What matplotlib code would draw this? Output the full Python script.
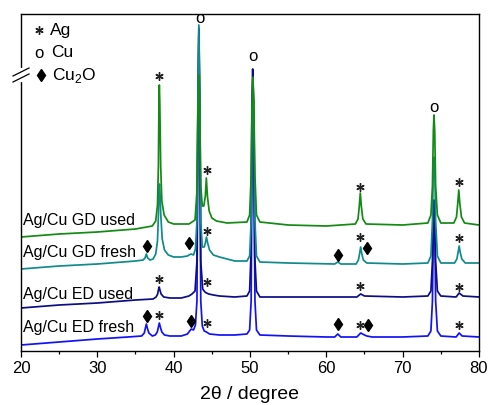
import numpy as np
import matplotlib
matplotlib.use("Agg")
import matplotlib.pyplot as plt
from matplotlib.ticker import MultipleLocator

plt.rcParams['font.family'] = ['Liberation Sans', 'DejaVu Sans']
plt.rcParams['mathtext.fontset'] = 'custom'
plt.rcParams['mathtext.rm'] = 'Liberation Sans'

# ---- data (2theta in degree, intensity in a.u., curves already offset) ----
ed_fresh_x = [20, 25, 30, 34, 35.8, 36.15, 36.3, 36.42, 36.55, 36.75, 37.2, 37.6, 37.85, 38.0,
              38.12, 38.25, 38.45, 38.8, 39.5, 41, 41.8, 42.1, 42.3, 42.6, 42.85, 43.05, 43.18,
              43.3, 43.42, 43.55, 43.75, 44.0, 44.3, 44.7, 46, 48, 49.6, 49.95, 50.15, 50.28,
              50.38, 50.5, 50.65, 50.85, 51.3, 55, 60, 61.1, 61.5, 61.9, 64, 64.5, 65.0, 65.3,
              66, 70, 73.3, 73.7, 73.9, 74.02, 74.1, 74.2, 74.32, 74.55, 75.0, 77, 77.4, 77.8, 80]
ed_fresh_y = [6, 9, 12, 14, 15, 18, 23, 27, 23, 18, 15, 16, 19, 24,
              28, 24, 19, 16, 15, 15, 17, 20, 22, 21, 26, 50, 220,
              321, 220, 50, 25, 20, 19, 17, 16, 16, 17, 21, 50, 200,
              251, 200, 50, 21, 16, 15, 14, 14, 17, 14, 14, 18, 16, 15,
              14, 14, 15, 20, 50, 125, 141, 125, 50, 20, 15, 14, 18, 15, 14]

ed_used_x = [20, 25, 30, 35, 37.3, 37.7, 37.9, 38.0, 38.1, 38.2, 38.35, 38.7, 39.5, 41, 42,
             42.4, 42.8, 43.05, 43.18, 43.3, 43.42, 43.55, 43.8, 44.1, 44.3, 44.6, 45.2, 46,
             48, 49.6, 49.95, 50.12, 50.25, 50.35, 50.47, 50.62, 50.85, 51.3, 55, 60, 64.0,
             64.5, 65.0, 70, 73.3, 73.7, 73.9, 74.02, 74.1, 74.2, 74.32, 74.55, 75.0, 77,
             77.4, 77.9, 80]
ed_used_y = [43, 46, 48, 51, 52, 54, 57, 61, 64, 61, 57, 54, 53, 53, 55,
             57, 60, 90, 250, 323, 250, 90, 62, 59, 58, 57, 56, 55,
             54, 55, 60, 95, 250, 282, 250, 95, 60, 54, 54, 54, 54,
             57, 55, 54, 55, 60, 90, 140, 151, 140, 90, 60, 55, 54,
             58, 55, 54]

gd_fresh_x = [20, 25, 30, 35, 36.0, 36.25, 36.42, 36.6, 36.9, 37.3, 37.65, 37.88, 38.0, 38.07,
              38.14, 38.2, 38.32, 38.5, 38.8, 39.3, 40, 41, 41.8, 42.0, 42.3, 42.6, 42.85,
              43.05, 43.18, 43.3, 43.42, 43.55, 43.75, 44.0, 44.15, 44.3, 44.45, 44.7, 45.2,
              46, 47, 48, 49.6, 49.95, 50.15, 50.28, 50.38, 50.5, 50.65, 50.85, 51.3, 55,
              61.1, 61.5, 61.9, 63.9, 64.2, 64.35, 64.5, 64.65, 64.85, 65.3, 70, 73.3, 73.7,
              73.9, 74.02, 74.1, 74.2, 74.32, 74.55, 75.0, 76.8, 77.1, 77.27, 77.4, 77.53,
              77.75, 78.2, 80]
gd_fresh_y = [82, 85, 87, 90, 91, 93, 97, 93, 91, 92, 97, 110, 135, 160,
              167, 160, 135, 112, 101, 96, 94, 94, 95, 96, 97, 96, 102,
              130, 260, 326, 260, 130, 104, 104, 108, 114, 108, 101, 96,
              94, 92, 90, 90, 95, 130, 240, 261, 240, 130, 95, 89, 88,
              87, 89, 87, 87, 91, 97, 104, 97, 91, 88, 87, 88, 95,
              130, 185, 194, 185, 130, 95, 88, 88, 92, 99, 105, 99,
              92, 88, 88]

gd_used_x = [20, 25, 30, 35, 37.2, 37.65, 37.88, 38.0, 38.07, 38.12, 38.18, 38.3, 38.45, 38.75,
             39.3, 40, 42, 42.8, 43.05, 43.18, 43.3, 43.42, 43.55, 43.75, 43.95, 44.15, 44.28,
             44.42, 44.65, 45.0, 45.6, 47, 49.6, 49.95, 50.15, 50.28, 50.38, 50.5, 50.65,
             50.85, 51.3, 55, 60, 63.8, 64.15, 64.32, 64.45, 64.58, 64.78, 65.2, 70, 73.3,
             73.7, 73.9, 74.02, 74.1, 74.2, 74.32, 74.55, 75.0, 76.7, 77.05, 77.22, 77.35,
             77.48, 77.7, 78.1, 80]
gd_used_y = [114, 117, 119, 122, 125, 130, 146, 185, 250, 266, 250, 185, 150, 136,
             129, 127, 127, 131, 160, 240, 276, 240, 165, 145, 145, 155, 173,
             155, 140, 133, 130, 128, 129, 136, 175, 250, 274, 250, 175,
             136, 129, 126, 125, 127, 132, 145, 158, 145, 132, 127, 126, 128,
             136, 165, 220, 236, 220, 165, 136, 128, 128, 134, 148, 161,
             148, 134, 128, 126]

labels = ["Ag/Cu ED fresh", "Ag/Cu ED used", "Ag/Cu GD fresh", "Ag/Cu GD used"]
label_y = [19, 52, 94, 126]
colors = ["#1212fa", "#0c0c86", "#108a8a", "#138a13"]

# phase marks
ag_x = [38.1, 44.37, 64.4, 77.4, 44.37, 64.4, 77.4, 38.1, 44.37, 64.4, 77.4, 38.1, 44.37, 64.4, 77.4]
ag_y = [275, 181, 164, 169, 120, 114, 113, 72, 69, 65, 64, 36, 28, 26, 26]
cu2o_x = [36.5, 42.0, 61.5, 65.3, 36.5, 42.3, 61.5, 65.5]
cu2o_y = [105, 108, 96, 103, 35, 30, 27, 26]
cu_x = [43.45, 50.4, 74.1]
cu_y = [328, 290, 239]

curves = [(ed_fresh_x, ed_fresh_y), (ed_used_x, ed_used_y),
          (gd_fresh_x, gd_fresh_y), (gd_used_x, gd_used_y)]

fig = plt.figure(figsize=(4.89, 4.05), dpi=100)
ax = fig.add_axes([21 / 489, 1 - 351 / 405, 458 / 489, 337 / 405])

for (x, y), c in zip(curves, colors):
    ax.plot(x, y, color=c, lw=1.25)

for lab, ly in zip(labels, label_y):
    ax.text(20.26, ly, lab, fontsize=11.5, ha='left', va='baseline')

star = dict(marker=(6, 2, 0), color='#222222', ms=6, mew=1.0, ls='none')
ax.plot(ag_x, ag_y, **star)
ax.plot(cu2o_x, cu2o_y, marker='d', color='black', ms=6, ls='none')
for cx, cy in zip(cu_x, cu_y):
    ax.text(cx, cy, "o", fontsize=12, ha='center', va='baseline')

# legend
ax.plot([22.36], [321], **star)
ax.text(22.36, 293, "o", fontsize=12, ha='center', va='baseline')
ax.plot([22.6], [276], marker='d', color='black', ms=6, ls='none')
ax.text(23.8, 316, "Ag", fontsize=12.5, va='baseline')
ax.text(23.9, 294, "Cu", fontsize=12.5, va='baseline')
ax.text(24.0, 271, r"Cu$_{\mathrm{2}}$O", fontsize=12.5, va='baseline')

ax.set_xlim(20, 80)
ax.set_ylim(0, 337)
ax.set_yticks([])
ax.xaxis.set_major_locator(MultipleLocator(10))
ax.xaxis.set_minor_locator(MultipleLocator(5))
ax.tick_params(axis='x', which='major', direction='out', length=4.5, width=0.9,
               labelsize=12, pad=3)
ax.tick_params(axis='x', which='minor', direction='out', length=2.3, width=0.9)
for s in ax.spines.values():
    s.set_linewidth(1.0)
ax.set_xlabel("2\u03b8 / degree", fontsize=14, labelpad=7)

# axis break on the left spine
def px(x, y):
    return x / 489, 1 - y / 405

gx, gy1 = px(21, 70)
_, gy2 = px(21, 80)
fig.add_artist(plt.Line2D([gx, gx], [gy1, gy2], color='white', lw=3, transform=fig.transFigure))
for dy in (-3, 3):
    a = px(13, 79 + dy)
    b = px(29, 71 + dy)
    fig.add_artist(plt.Line2D([a[0], b[0]], [a[1], b[1]], color='black', lw=0.9,
                              transform=fig.transFigure))

fig.savefig("out.png", dpi=100)
